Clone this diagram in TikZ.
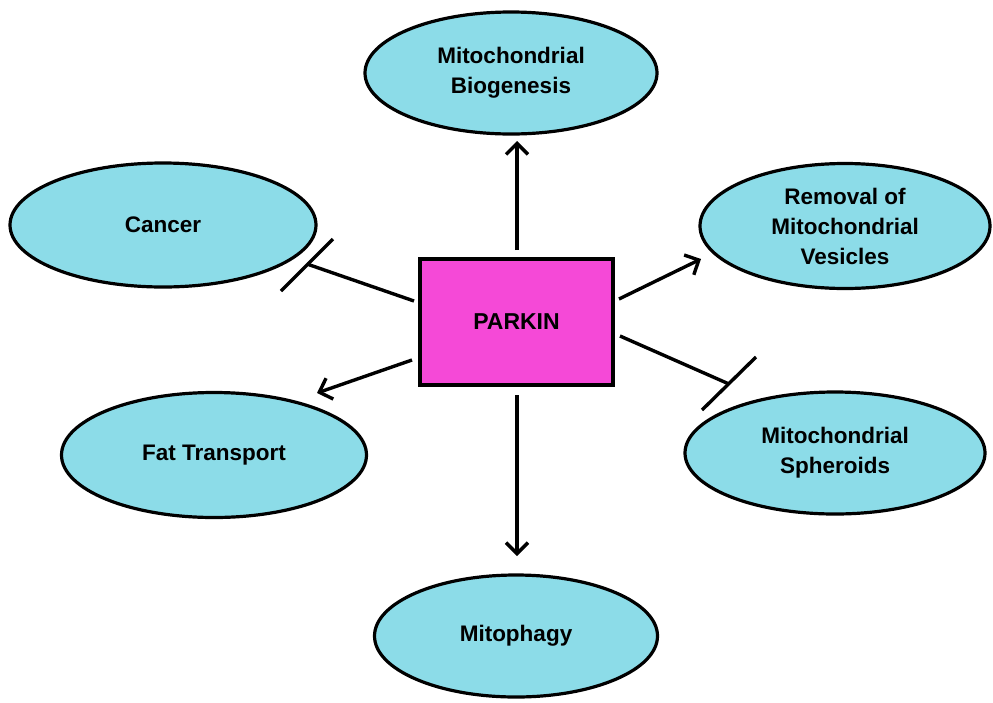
\documentclass[tikz,border=0pt]{standalone}
\usepackage{fontspec}
\setmainfont{Liberation Sans}
\usetikzlibrary{shapes.geometric,arrows.meta}
\definecolor{cyanfill}{RGB}{140,220,232}
\definecolor{parkinfill}{RGB}{245,73,215}
\tikzset{
  bubble/.style={ellipse, draw=black, line width=3.2pt, fill=cyanfill, inner sep=0pt,
    align=center, font=\fontsize{22.5}{30}\selectfont\bfseries},
  hub/.style={rectangle, draw=black, line width=3.2pt, fill=parkinfill, inner sep=0pt,
    minimum width=193pt, minimum height=126pt, font=\fontsize{23}{30}\selectfont\bfseries},
  act/.style={line width=3.4pt, -{Straight Barb[length=11pt,width=22pt,line width=3.4pt]}},
  inh/.style={line width=3.4pt},
}
\begin{document}
\begin{tikzpicture}[x=1pt,y=-1pt]
\useasboundingbox (0,0) rectangle (993,702);
\node[hub] (parkin) at (516.5,322) {PARKIN};
\node[bubble, minimum width=292pt, minimum height=122pt] (bio) at (511,73) {Mitochondrial\\Biogenesis};
\node[bubble, minimum width=290pt, minimum height=125pt] (rem) at (845,226) {Removal of\\Mitochondrial\\Vesicles};
\node[bubble, minimum width=306pt, minimum height=124pt] (can) at (163,225) {Cancer};
\node[bubble, minimum width=305pt, minimum height=125pt] (fat) at (214,455) {Fat Transport};
\node[bubble, minimum width=300pt, minimum height=122pt] (sph) at (835,453) {Mitochondrial\\Spheroids};
\node[bubble, minimum width=283pt, minimum height=122pt] (mit) at (516,636) {Mitophagy};
% connector end points
\coordinate (upS) at (517,250);
\coordinate (upE) at (517,141);
\coordinate (dnS) at (517,395);
\coordinate (dnE) at (517,556);
\coordinate (rtS) at (619,299);
\coordinate (rtE) at (701,259);
\coordinate (lbS) at (412,360);
\coordinate (lbE) at (317,393);
\coordinate (ltS) at (414,301);
\coordinate (ltE) at (307,264);
\coordinate (ltB1) at (281,291);
\coordinate (ltB2) at (333,239);
\coordinate (rbS) at (620,336);
\coordinate (rbE) at (729,384);
\coordinate (rbB1) at (702,410);
\coordinate (rbB2) at (756,357);
\draw[act] (upS) -- (upE);
\draw[act] (dnS) -- (dnE);
\draw[act] (rtS) -- (rtE);
\draw[act] (lbS) -- (lbE);
\draw[inh] (ltS) -- (ltE);
\draw[inh] (ltB1) -- (ltB2);
\draw[inh] (rbS) -- (rbE);
\draw[inh] (rbB1) -- (rbB2);
\end{tikzpicture}
\end{document}
